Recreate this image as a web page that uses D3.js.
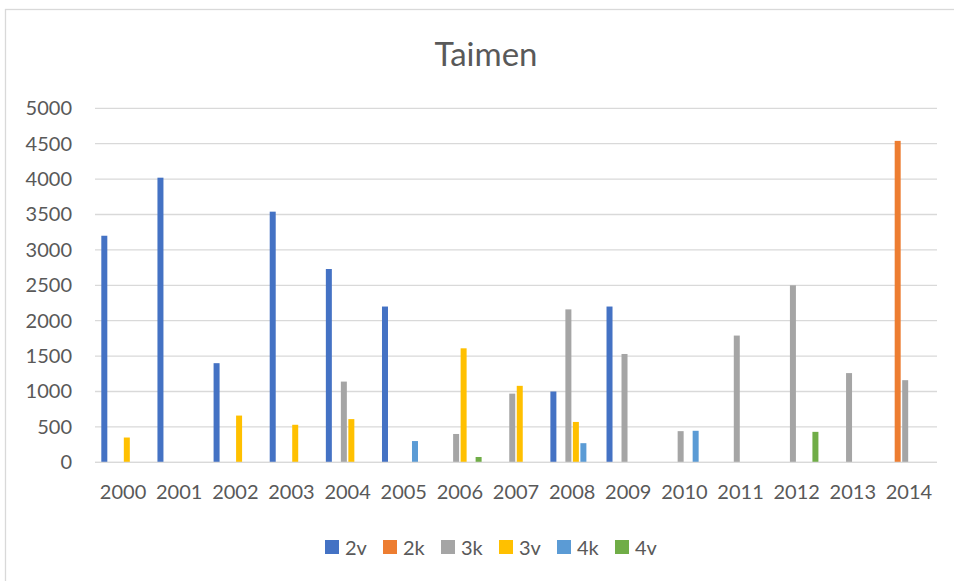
<!DOCTYPE html>
<html>
<head>
<meta charset="utf-8">
<script src="https://cdn.jsdelivr.net/npm/d3@7"></script>
<style>
  html, body { margin: 0; padding: 0; background: #fff; }
  svg { display: block; }
  text { font-family: Lato, "Open Sans", "Liberation Sans", sans-serif; fill: #595959; }
</style>
</head>
<body>
<svg id="chart" width="954" height="581"></svg>
<script>
const years = ["2000","2001","2002","2003","2004","2005","2006","2007","2008","2009","2010","2011","2012","2013","2014"];
const seriesNames = ["2v","2k","3k","3v","4k","4v"];
const seriesColors = ["#4472C4","#ED7D31","#A5A5A5","#FFC000","#5B9BD5","#70AD47"];
const v2 = [3200, 4020, 1400, 3540, 2730, 2200, 0, 0, 1000, 2200, 0, 0, 0, 0, 0];
const k2 = [0, 0, 0, 0, 0, 0, 0, 0, 0, 0, 0, 0, 0, 0, 4540];
const k3 = [0, 0, 0, 0, 1140, 0, 400, 970, 2160, 1530, 440, 1790, 2500, 1260, 1160];
const v3 = [350, 0, 660, 530, 610, 0, 1610, 1080, 570, 0, 0, 0, 0, 0, 0];
const k4 = [0, 0, 0, 0, 0, 300, 0, 0, 270, 0, 445, 0, 0, 0, 0];
const v4 = [0, 0, 0, 0, 0, 0, 75, 0, 0, 0, 0, 0, 430, 0, 0];
const yTicks = [0, 500, 1000, 1500, 2000, 2500, 3000, 3500, 4000, 4500, 5000];
const title = "Taimen";

const seriesValues = [v2, k2, k3, v3, k4, v4];

const svg = d3.select("#chart");
const W = 954, H = 581;
const plot = { left: 95, right: 937, top: 108.3, bottom: 462.3 };

// outer chart frame (only top and left visible in the reference)
svg.append("rect")
  .attr("x", 5.5).attr("y", 9.5)
  .attr("width", W + 20).attr("height", H + 20)
  .attr("fill", "#fff").attr("stroke", "#d9d9d9").attr("stroke-width", 1.3);

const x0 = d3.scaleBand().domain(years).range([plot.left, plot.right]).padding(0);
const groupW = 45;
const x1 = d3.scaleBand().domain(seriesNames).range([0, groupW]).padding(0);
const y = d3.scaleLinear().domain([0, 5000]).range([plot.bottom, plot.top]);
const color = d3.scaleOrdinal().domain(seriesNames).range(seriesColors);

// gridlines
svg.append("g")
  .selectAll("line")
  .data(yTicks)
  .join("line")
  .attr("x1", plot.left).attr("x2", plot.right)
  .attr("y1", d => y(d)).attr("y2", d => y(d))
  .attr("stroke", "#d9d9d9").attr("stroke-width", 1.3);

// y axis labels
const yAxis = d3.axisLeft(y).tickValues(yTicks).tickSize(0).tickPadding(0).tickFormat(d3.format("d"));
const gy = svg.append("g").attr("transform", `translate(72,0)`).call(yAxis);
gy.select(".domain").remove();
gy.selectAll("text").attr("font-size", 20).attr("fill", "#595959")
  .style("font-family", "Lato, 'Open Sans', sans-serif");

// x axis labels
const xAxis = d3.axisBottom(x0).tickSize(0).tickPadding(0);
const gx = svg.append("g").attr("transform", `translate(0,${plot.bottom + 22})`).call(xAxis);
gx.select(".domain").remove();
gx.selectAll("text").attr("font-size", 20).attr("fill", "#595959")
  .style("font-family", "Lato, 'Open Sans', sans-serif");

// bars
const data = years.map((yr, i) => ({ year: yr, vals: seriesNames.map((s, j) => ({ key: s, value: seriesValues[j][i] })) }));
const offset = (x0.bandwidth() - groupW) / 2;
const barW = 6;
svg.append("g")
  .selectAll("g")
  .data(data)
  .join("g")
  .attr("transform", d => `translate(${x0(d.year) + offset},0)`)
  .selectAll("rect")
  .data(d => d.vals.filter(v => v.value > 0))
  .join("rect")
  .attr("x", d => x1(d.key) + (x1.bandwidth() - barW) / 2)
  .attr("width", barW)
  .attr("y", d => y(d.value))
  .attr("height", d => y(0) - y(d.value))
  .attr("fill", d => color(d.key));

// re-draw baseline on top
svg.append("line")
  .attr("x1", plot.left).attr("x2", plot.right)
  .attr("y1", y(0)).attr("y2", y(0))
  .attr("stroke", "#d9d9d9").attr("stroke-width", 1.3);

// title
svg.append("text")
  .attr("x", 486).attr("y", 66)
  .attr("text-anchor", "middle")
  .attr("font-size", 33)
  .attr("fill", "#595959")
  .text(title);

// legend
const legend = svg.append("g");
const legendStart = 325, legendStep = 58;
const items = legend.selectAll("g").data(seriesNames).join("g")
  .attr("transform", (d, i) => `translate(${legendStart + i * legendStep},540)`);
items.append("rect").attr("width", 14).attr("height", 14).attr("fill", d => color(d));
items.append("text").attr("x", 20).attr("y", 14.5).attr("font-size", 20).attr("fill", "#595959").text(d => d);
</script>
</body>
</html>
